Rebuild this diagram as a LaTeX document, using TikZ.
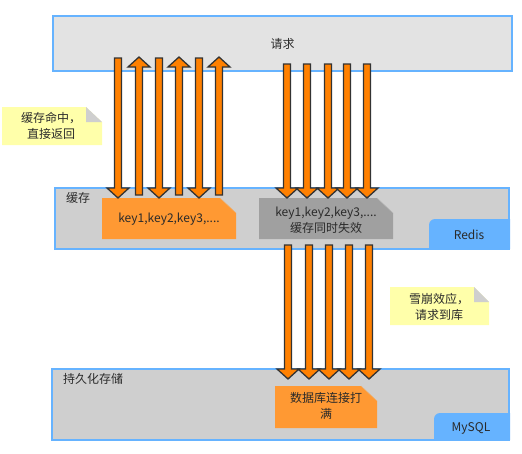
\documentclass[tikz,border=0pt]{standalone}
\usepackage{fontspec}
\setmainfont{Noto Sans CJK SC}
\definecolor{bordblue}{HTML}{66B3FF}
\definecolor{reqfill}{HTML}{E3E3E3}
\definecolor{boxfill}{HTML}{CFCFCF}
\definecolor{notorange}{HTML}{FF9933}
\definecolor{notgray}{HTML}{A0A0A0}
\definecolor{arrorange}{HTML}{FF8000}
\definecolor{arrline}{HTML}{333333}
\definecolor{noteyellow}{HTML}{FFFFAA}
\definecolor{txt}{HTML}{2A2A2A}
\tikzset{
  layerbox/.style={draw=bordblue, line width=1.6pt},
  blockarr/.style={fill=arrorange, draw=arrline, line width=1.3pt, line join=miter},
  lbl/.style={text=txt, font=\fontsize{12}{16}\selectfont, inner sep=0pt, align=center},
  tabfill/.style={fill=bordblue},
}
\newcommand\darr[3]{\draw[blockarr] ({#1-3.5},#2) -- ({#1+3.5},#2) -- ({#1+3.5},{#3-10}) -- ({#1+11},{#3-10}) -- (#1,#3) -- ({#1-11},{#3-10}) -- ({#1-3.5},{#3-10}) -- cycle;}
\newcommand\uarr[3]{\draw[blockarr] ({#1-3.5},#2) -- ({#1+3.5},#2) -- ({#1+3.5},{#3+10}) -- ({#1+11},{#3+10}) -- (#1,#3) -- ({#1-11},{#3+10}) -- ({#1-3.5},{#3+10}) -- cycle;}
\begin{document}
\begin{tikzpicture}[x=1pt,y=-1pt]
\useasboundingbox (0,0) rectangle (522,453);
% request box
\fill[reqfill] (53,16) rectangle (512,71);
\draw[layerbox] (53,16) rectangle (512,71);
\node[lbl] (req) at (282.5,44) {请求};
% cache box
\fill[boxfill] (55,188) rectangle (509,249);
\fill[tabfill] (510,249) -- (429,249) [rounded corners=6] -- (429,219) [sharp corners] -- (510,219) -- cycle;
\draw[layerbox] (55,188) rectangle (509,249);
\node[lbl, anchor=west] (cache) at (66,198) {缓存};
\node[lbl] (redis) at (469,235) {Redis};
% persistent box
\fill[boxfill] (52,369) rectangle (509,440);
\fill[tabfill] (510,440) -- (434,440) [rounded corners=6] -- (434,413) [sharp corners] -- (510,413) -- cycle;
\draw[layerbox] (52,369) rectangle (509,440);
\node[lbl, anchor=west] (persist) at (63,379) {持久化存储};
\node[lbl] (mysql) at (471,428) {MySQL};
% notes
\fill[notorange] (102,198) -- (220,198) -- (236,213) -- (236,239) -- (102,239) -- cycle;
\draw[draw=notorange!60!boxfill, line width=0.5pt] (220,198) -- (236,213);
\node[lbl] (keys1) at (169,219) {key1,key2,key3,....};
\fill[notgray] (259,198) -- (377,198) -- (393,213) -- (393,239) -- (259,239) -- cycle;
\draw[draw=notgray!50!boxfill, line width=0.5pt] (377,198) -- (393,213);
\node[lbl] (keys2) at (326,220) {key1,key2,key3,....\\缓存同时失效};
\fill[notorange] (275,386) -- (361,386) -- (377,401) -- (377,428) -- (275,428) -- cycle;
\draw[draw=notorange!60!boxfill, line width=0.5pt] (361,386) -- (377,401);
\node[lbl] (dbfull) at (326,406) {数据库连接打\\满};
\fill[noteyellow] (2,107) -- (86,107) -- (102,122) -- (102,145) -- (2,145) -- cycle;
\fill[boxfill] (86,107) -- (102,122) -- (86,122) -- cycle;
\node[lbl] (hit) at (51,126) {缓存命中，\\直接返回};
\fill[noteyellow] (390,287) -- (474,287) -- (489,302) -- (489,325) -- (390,325) -- cycle;
\fill[boxfill] (474,287) -- (489,302) -- (474,302) -- cycle;
\node[lbl] (avalanche) at (439,307) {雪崩效应，\\请求到库};
% arrows: cache hit
\darr{118}{58}{198}
\uarr{139}{195}{57}
\darr{159}{58}{198}
\uarr{179}{195}{57}
\darr{199}{58}{198}
\uarr{219}{195}{57}
% arrows: to cache (miss)
\darr{287}{64}{198}
\darr{307}{64}{198}
\darr{328}{64}{198}
\darr{347}{64}{198}
\darr{367}{64}{198}
% arrows: to database
\darr{288}{245}{379}
\darr{309}{245}{379}
\darr{329}{245}{379}
\darr{349}{245}{379}
\darr{369}{245}{379}
\end{tikzpicture}
\end{document}
